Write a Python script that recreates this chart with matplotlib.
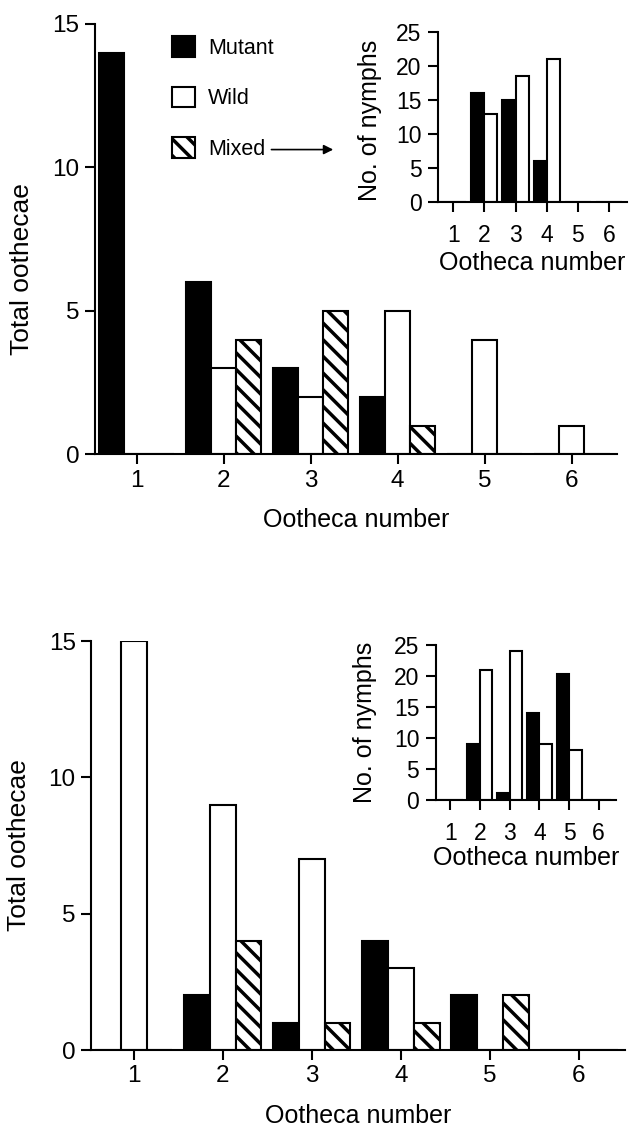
import matplotlib
matplotlib.use('Agg')
import matplotlib.pyplot as plt
import numpy as np

plt.rcParams['font.family'] = ['Liberation Sans', 'DejaVu Sans']
plt.rcParams['hatch.linewidth'] = 2.5
plt.rcParams['hatch.color'] = 'black'

ootheca = [1, 2, 3, 4, 5, 6]

# upper experiment: total oothecae per ootheca number
top_mutant = [14, 6, 3, 2, 0, 0]
top_wild = [0, 3, 2, 5, 4, 1]
top_mixed = [0, 4, 5, 1, 0, 0]
# upper inset: no. of nymphs
top_nymph_mutant = [0, 16, 15, 6, 0, 0]
top_nymph_wild = [0, 13, 18.5, 21, 0, 0]

# lower experiment
bot_mutant = [0, 2, 1, 4, 2, 0]
bot_wild = [15, 9, 7, 3, 0, 0]
bot_mixed = [0, 4, 1, 1, 2, 0]
bot_nymph_mutant = [0, 9, 1.2, 14, 20.3, 0]
bot_nymph_wild = [0, 21, 24, 9, 8, 0]

main_yticks = [0, 5, 10, 15]
inset_yticks = [0, 5, 10, 15, 20, 25]


def style_axes(ax, tick_size, xpad, ypad):
    for side in ('top', 'right'):
        ax.spines[side].set_visible(False)
    for side in ('left', 'bottom'):
        ax.spines[side].set_linewidth(1.5)
    ax.tick_params(direction='out', length=7, width=1.5,
                   labelsize=tick_size)
    ax.tick_params(axis='x', pad=xpad)
    ax.tick_params(axis='y', pad=ypad)
    ax.set_facecolor('none')


def main_panel(ax, mutant, wild, mixed):
    x = np.array(ootheca)
    w = 0.29
    bars = []
    bars.append(ax.bar(x - w, mutant, w, color='black', edgecolor='black',
                       linewidth=1.5, label='Mutant'))
    bars.append(ax.bar(x, wild, w, color='white', edgecolor='black',
                       linewidth=1.5, label='Wild'))
    bars.append(ax.bar(x + w, mixed, w, color='white', edgecolor='black',
                       linewidth=1.5, hatch='\\\\', label='Mixed'))
    ax.set_xlim(0.52, 6.52)
    ax.set_ylim(0, 15)
    ax.set_xticks(ootheca)
    ax.set_yticks(main_yticks)
    style_axes(ax, 17.5, 4, 4)
    ax.set_xlabel('Ootheca number', fontsize=18)
    ax.set_ylabel('Total oothecae', fontsize=19)
    return bars


def inset_panel(ax, mutant, wild):
    x = np.array(ootheca)
    w = 0.42
    ax.bar(x - w, mutant, w, align='edge', color='black',
           edgecolor='black', linewidth=1.5)
    ax.bar(x, wild, w, align='edge', color='white',
           edgecolor='black', linewidth=1.5)
    ax.set_xlim(0.52, 6.58)
    ax.set_ylim(0, 25)
    ax.set_xticks(ootheca)
    ax.set_yticks(inset_yticks)
    style_axes(ax, 16.5, 9, 5)
    ax.set_xlabel('Ootheca number', fontsize=18)
    ax.set_ylabel('No. of nymphs', fontsize=18)


fig = plt.figure(figsize=(6.36, 11.36), dpi=100)

# upper figure
ax1 = fig.add_axes([0.149, 0.600, 0.821, 0.379])
bars = main_panel(ax1, top_mutant, top_wild, top_mixed)
ax1.yaxis.set_label_coords(-0.117, 0.43)
ax1.xaxis.set_label_coords(0.5, -0.125)
leg = ax1.legend(handles=bars, loc='upper left',
                 bbox_to_anchor=(0.1475, 0.972), frameon=False,
                 fontsize=15.5, handlelength=1.1, handleheight=1.1,
                 labelspacing=1.3, handletextpad=0.6,
                 borderpad=0, borderaxespad=0)
ax1.annotate('', xy=(0.462, 0.708), xytext=(0.333, 0.708),
             xycoords='axes fraction', textcoords='axes fraction',
             arrowprops=dict(arrowstyle='-|>', color='black', lw=1.2,
                             mutation_scale=14))

ins1 = fig.add_axes([0.689, 0.8222, 0.297, 0.1496])
inset_panel(ins1, top_nymph_mutant, top_nymph_wild)
ins1.yaxis.set_label_coords(-0.30, 0.48)
ins1.xaxis.set_label_coords(0.5, -0.29)

# lower figure
ax2 = fig.add_axes([0.143, 0.0757, 0.840, 0.360])
main_panel(ax2, bot_mutant, bot_wild, bot_mixed)
ax2.yaxis.set_label_coords(-0.112, 0.5)
ax2.xaxis.set_label_coords(0.5, -0.132)

ins2 = fig.add_axes([0.6855, 0.2958, 0.283, 0.1364])
inset_panel(ins2, bot_nymph_mutant, bot_nymph_wild)
ins2.yaxis.set_label_coords(-0.33, 0.5)
ins2.xaxis.set_label_coords(0.5, -0.30)

fig.savefig('out.png', dpi=100, facecolor='white')
